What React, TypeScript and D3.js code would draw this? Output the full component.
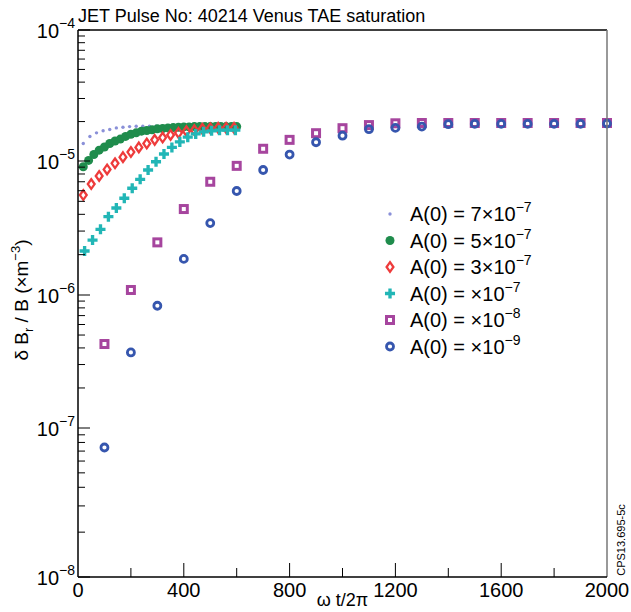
import React from "react";
import * as d3 from "d3";

// A(0) = 1e-9 (open circles) and 1e-8 (open squares), every 100
const xSparse = [100, 200, 300, 400, 500, 600, 700, 800, 900, 1000, 1100, 1200, 1300, 1400, 1500, 1600, 1700, 1800, 1900, 2000];
const a9 = [7.4e-8, 3.7e-7, 8.3e-7, 1.86e-6, 3.44e-6, 5.97e-6, 8.57e-6, 1.12e-5, 1.39e-5, 1.56e-5, 1.75e-5, 1.79e-5, 1.83e-5, 1.91e-5, 1.92e-5, 1.92e-5, 1.92e-5, 1.92e-5, 1.92e-5, 1.93e-5];
const a8 = [4.28e-7, 1.09e-6, 2.47e-6, 4.38e-6, 7.0e-6, 9.2e-6, 1.24e-5, 1.45e-5, 1.63e-5, 1.78e-5, 1.88e-5, 1.94e-5, 1.95e-5, 1.95e-5, 1.95e-5, 1.95e-5, 1.95e-5, 1.95e-5, 1.95e-5, 1.95e-5];

// A(0) = 1e-7 (crosses)
const xA7 = [25, 55, 85, 115, 145, 175, 205, 235, 265, 295, 325, 355, 385, 415, 445, 475, 505, 535, 565, 595];
const a7 = [2.13e-6, 2.57e-6, 3.09e-6, 3.84e-6, 4.46e-6, 5.27e-6, 6.26e-6, 7.3e-6, 8.57e-6, 9.88e-6, 1.13e-5, 1.27e-5, 1.4e-5, 1.52e-5, 1.61e-5, 1.67e-5, 1.7e-5, 1.72e-5, 1.72e-5, 1.72e-5];

// A(0) = 3e-7 (diamonds)
const xA3 = [20, 50, 80, 110, 140, 170, 200, 230, 260, 290, 320, 350, 380, 410, 440, 470, 500, 530, 560, 590];
const a3 = [5.57e-6, 6.73e-6, 7.73e-6, 8.65e-6, 9.61e-6, 1.07e-5, 1.17e-5, 1.27e-5, 1.36e-5, 1.45e-5, 1.51e-5, 1.58e-5, 1.64e-5, 1.69e-5, 1.72e-5, 1.76e-5, 1.78e-5, 1.79e-5, 1.79e-5, 1.79e-5];

// A(0) = 5e-7 (filled circles)
const xA5 = [20, 40, 60, 80, 100, 120, 140, 160, 180, 200, 220, 240, 260, 280, 300, 320, 340, 360, 380, 400, 420, 440, 460, 480, 500, 520, 540, 560, 580, 600];
const a5 = [9.06e-6, 1.01e-5, 1.12e-5, 1.21e-5, 1.28e-5, 1.36e-5, 1.42e-5, 1.47e-5, 1.54e-5, 1.6e-5, 1.64e-5, 1.69e-5, 1.71e-5, 1.73e-5, 1.76e-5, 1.77e-5, 1.79e-5, 1.8e-5, 1.81e-5, 1.82e-5, 1.82e-5, 1.83e-5, 1.83e-5, 1.83e-5, 1.83e-5, 1.83e-5, 1.83e-5, 1.83e-5, 1.83e-5, 1.83e-5];

// A(0) = 7e-7 (small dots)
const xA77 = [20, 45, 70, 95, 120, 145, 170, 195, 220, 245, 270, 295, 320, 345, 370, 395, 420, 445, 470, 495, 520, 545, 570, 595];
const a77 = [1.36e-5, 1.54e-5, 1.64e-5, 1.7e-5, 1.74e-5, 1.79e-5, 1.81e-5, 1.83e-5, 1.84e-5, 1.84e-5, 1.84e-5, 1.84e-5, 1.84e-5, 1.84e-5, 1.84e-5, 1.84e-5, 1.84e-5, 1.84e-5, 1.84e-5, 1.84e-5, 1.84e-5, 1.84e-5, 1.84e-5, 1.84e-5];

const legendCoef = ["7×", "5×", "3×", "×", "×", "×"];
const legendExp = ["−7", "−7", "−7", "−7", "−8", "−9"];
const xTicks = [0, 200, 400, 600, 800, 1000, 1200, 1400, 1600, 1800, 2000];
const decadeExp = [-4, -5, -6, -7, -8];

const FONT = "'Liberation Sans', Arial, sans-serif";

const left = 78;
const right = 607;
const top = 30;
const bottom = 577;

const x = d3.scaleLinear().domain([0, 2000]).range([left, right]);
// decades in the source figure are not quite evenly spaced
const y = d3
  .scaleLog()
  .domain([1e-8, 1e-7, 1e-6, 1e-5, 1e-4])
  .range([bottom, 428, 295, 161, top]);

const C = {
  dot: "#8a90d8",
  green: "#1f8c4c",
  red: "#ee3b3b",
  cyan: "#22b6b6",
  mag: "#a6459e",
  blue: "#3656ae",
};

const crossPath = d3.symbol(d3.symbolCross, 56)();
const diamond = "M0,-4.8L3.4,0L0,4.8L-3.4,0Z";

const marker = (k: number, cx: number, cy: number, key: string) => {
  const t = `translate(${cx},${cy})`;
  if (k === 0) return <circle key={key} cx={cx} cy={cy} r={1.7} fill={C.dot} />;
  if (k === 1) return <circle key={key} cx={cx} cy={cy} r={4.5} fill={C.green} />;
  if (k === 2)
    return <path key={key} transform={t} d={diamond} fill="none" stroke={C.red} strokeWidth={2.3} />;
  if (k === 3) return <path key={key} transform={t} d={crossPath} fill={C.cyan} />;
  if (k === 4)
    return <rect key={key} x={cx - 3.5} y={cy - 3.5} width={7} height={7} fill="none" stroke={C.mag} strokeWidth={3} />;
  return <circle key={key} cx={cx} cy={cy} r={3.5} fill="none" stroke={C.blue} strokeWidth={2.8} />;
};

const series = [
  { xs: xA77, ys: a77 },
  { xs: xA5, ys: a5 },
  { xs: xA3, ys: a3 },
  { xs: xA7, ys: a7 },
  { xs: xSparse, ys: a8 },
  { xs: xSparse, ys: a9 },
];

export default function App() {
  const minor = d3.scaleLog().domain([1e-8, 1e-4]).ticks();
  return (
    <svg width={631} height={612} style={{ display: "block", position: "absolute", left: 0, top: 0 }} fontFamily={FONT}>
      <rect width={631} height={612} fill="#fff" />
      <text x={left} y={22} fontSize={18}>JET Pulse No: 40214 Venus TAE saturation</text>

      {series.map((s, k) => (
        <g key={k}>{s.xs.map((xv, i) => marker(k, x(xv), y(s.ys[i]), `${k}-${i}`))}</g>
      ))}

      {/* frame */}
      <line x1={left} x2={right} y1={top} y2={top} stroke="#000" strokeWidth={1.5} />
      <line x1={right} x2={right} y1={top} y2={bottom} stroke="#777" strokeWidth={1.5} />
      <line x1={left} x2={left} y1={top} y2={bottom} stroke="#000" strokeWidth={1.5} />
      <line x1={left} x2={right} y1={bottom} y2={bottom} stroke="#000" strokeWidth={1.5} />

      {xTicks.map((t) => {
        const major = t % 400 === 0;
        return (
          <g key={t}>
            {t > 0 && t < 2000 && (
              <line x1={x(t)} x2={x(t)} y1={bottom} y2={bottom - (major ? 14 : 9)} stroke="#000" strokeWidth={1} />
            )}
            {major && (
              <text x={x(t)} y={597} fontSize={20} textAnchor="middle">{t}</text>
            )}
          </g>
        );
      })}

      {minor.map((v, i) => {
        const m = Math.round(v / Math.pow(10, Math.floor(Math.log10(v) + 1e-9)));
        const major = m === 1;
        return (
          <line key={i} x1={left} x2={left + (major ? 12 : 7)} y1={y(v)} y2={y(v)} stroke="#000" strokeWidth={1} />
        );
      })}

      {decadeExp.map((e) => (
        <text key={e} x={75} y={y(Math.pow(10, e)) + 8} fontSize={20} textAnchor="end">
          10<tspan dy={-10} fontSize={14}>{`−${-e}`}</tspan>
        </text>
      ))}

      <text x={(left + right) / 2} y={606} fontSize={18} textAnchor="middle">ω t/2π</text>

      <text transform="translate(28,300) rotate(-90)" fontSize={19} textAnchor="middle">
        δ B<tspan fontSize={13} dy={5}>r</tspan>
        <tspan dy={-5}> / B (×m</tspan>
        <tspan fontSize={13} dy={-8}>−3</tspan>
        <tspan dy={8}>)</tspan>
      </text>

      <text transform="translate(625,540) rotate(-90)" fontSize={11} textAnchor="middle">CPS13.695-5c</text>

      {legendCoef.map((c, k) => {
        const ly = 214 + k * 26.5;
        return (
          <g key={k}>
            {marker(k, 390, ly, `lg-${k}`)}
            <text x={410} y={ly + 7} fontSize={20}>
              {`A(0) = ${c}10`}
              <tspan dy={-9} fontSize={14}>{legendExp[k]}</tspan>
            </text>
          </g>
        );
      })}
    </svg>
  );
}
